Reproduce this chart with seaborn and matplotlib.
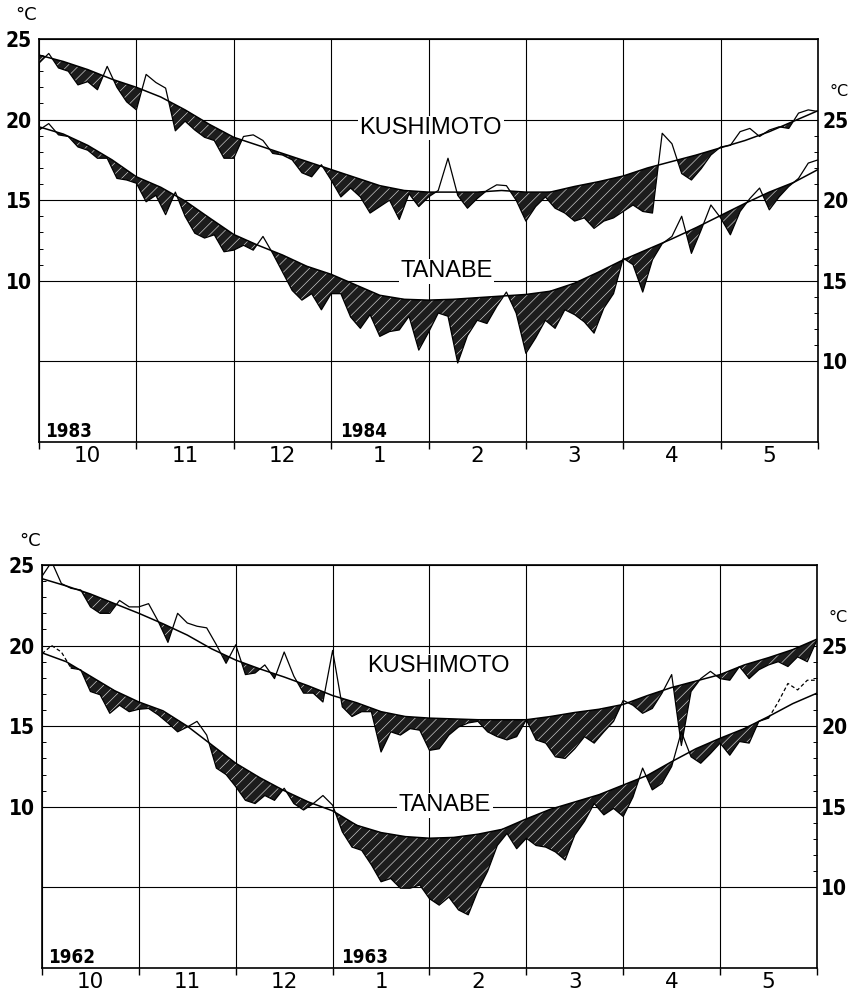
import numpy as np
import matplotlib
matplotlib.use("Agg")
import matplotlib.pyplot as plt
import seaborn as sns

# ---------------- data ----------------
months = ["10", "11", "12", "1", "2", "3", "4", "5"]
# sampling positions in month units (0 = 1 Oct, 8 = 31 May)
obs_x = np.round(np.arange(0, 81) / 10.0, 2)
norm_x = np.arange(0, 33) / 4.0

# 1983-84
kushi_obs_8384 = [23.5, 24.1, 23.2, 23.0, 22.15, 22.35, 21.85, 23.3, 22.0, 21.1,
                  20.6, 22.8, 22.3, 21.95, 19.3, 19.9, 19.35, 18.9, 18.7, 17.6,
                  17.6, 18.95, 19.05, 18.7, 17.9, 17.8, 17.5, 16.7, 16.45, 17.2,
                  16.25, 15.2, 15.75, 15.2, 14.2, 14.6, 15.0, 13.8, 15.4, 14.6,
                  15.2, 15.6, 17.6, 15.3, 14.5, 15.1, 15.6, 15.95, 15.9, 15.0,
                  13.7, 14.6, 15.2, 14.5, 14.2, 13.7, 13.9, 13.25, 13.7, 13.9,
                  14.3, 14.7, 14.3, 14.2, 19.15, 18.5, 16.65, 16.25, 16.95, 17.8,
                  18.3, 18.4, 19.25, 19.45, 18.95, 19.35, 19.55, 19.45, 20.4, 20.6,
                  20.5]
kushi_norm_8384 = [24.0, 23.6, 23.1, 22.5, 22.0, 21.4, 20.6, 19.7, 18.9, 18.4,
                   17.9, 17.4, 16.9, 16.4, 15.9, 15.6, 15.5, 15.5, 15.5, 15.6,
                   15.5, 15.5, 15.85, 16.15, 16.5, 17.0, 17.4, 17.8, 18.25, 18.7,
                   19.25, 19.9, 20.55]
tanabe_obs_8384 = [19.35, 19.75, 19.05, 18.95, 18.3, 18.1, 17.6, 17.6, 16.35, 16.25,
                   16.05, 14.9, 15.3, 14.1, 15.5, 14.0, 12.95, 12.65, 12.85, 11.8,
                   11.9, 12.2, 11.9, 12.75, 11.7, 10.55, 9.4, 8.8, 9.2, 8.2,
                   9.2, 9.2, 7.75, 7.05, 7.9, 6.55, 6.85, 6.95, 7.8, 5.7,
                   6.8, 8.0, 7.8, 4.9, 6.6, 7.55, 7.35, 8.4, 9.3, 8.0,
                   5.5, 6.45, 7.55, 7.05, 8.2, 7.9, 7.45, 6.75, 8.3, 9.2,
                   11.4, 11.0, 9.3, 11.3, 12.3, 12.75, 14.0, 11.7, 13.15, 14.7,
                   13.9, 12.85, 14.3, 15.1, 15.75, 14.4, 15.2, 15.85, 16.35, 17.3,
                   17.5]
tanabe_norm_8384 = [19.55, 19.1, 18.4, 17.5, 16.45, 15.8, 14.95, 13.9, 12.87, 12.2,
                    11.6, 10.9, 10.4, 9.75, 9.1, 8.85, 8.8, 8.85, 8.95, 9.05,
                    9.15, 9.35, 9.85, 10.55, 11.3, 11.95, 12.6, 13.3, 14.05, 14.8,
                    15.5, 16.1, 16.9]

# 1962-63
kushi_obs_6263 = [24.3, 25.2, 23.85, 23.55, 23.45, 22.4, 22.0, 22.0, 22.8, 22.4,
                  22.4, 22.6, 21.5, 20.2, 22.0, 21.4, 21.2, 21.1, 20.05, 18.9,
                  20.05, 18.2, 18.3, 18.8, 17.95, 19.6, 18.1, 17.05, 17.05, 16.5,
                  19.7, 16.2, 15.6, 15.9, 15.9, 13.4, 14.65, 14.45, 14.85, 14.75,
                  13.5, 13.6, 14.45, 14.95, 15.2, 15.3, 14.65, 14.35, 14.15, 14.35,
                  15.4, 14.15, 13.95, 13.1, 13.0, 13.6, 14.35, 13.95, 14.65, 15.3,
                  16.6, 16.3, 15.8, 16.1, 17.05, 18.2, 13.8, 17.15, 17.95, 18.4,
                  17.95, 17.85, 18.7, 17.95, 18.5, 18.8, 19.0, 18.7, 19.3, 19.0,
                  20.35]
kushi_norm_6263 = [24.15, 23.7, 23.2, 22.6, 22.0, 21.35, 20.65, 19.8, 19.1, 18.55,
                   18.05, 17.5, 16.9, 16.45, 15.9, 15.6, 15.5, 15.45, 15.4, 15.4,
                   15.4, 15.6, 15.85, 16.05, 16.35, 16.9, 17.4, 17.8, 18.2, 18.8,
                   19.25, 19.75, 20.4]
tanabe_obs_6263 = [19.5, 20.0, 19.6, 18.6, 18.5, 17.15, 16.95, 15.8, 16.3, 15.9,
                   16.05, 16.1, 15.7, 15.2, 14.65, 14.95, 15.3, 14.45, 12.4, 12.0,
                   11.25, 10.4, 10.2, 10.7, 10.4, 11.15, 10.2, 9.8, 10.2, 10.7,
                   10.1, 8.45, 7.5, 7.3, 6.4, 5.35, 5.55, 4.95, 4.95, 5.15,
                   4.3, 3.9, 4.4, 3.6, 3.3, 4.8, 6.0, 7.6, 8.35, 7.4,
                   8.05, 7.6, 7.5, 7.2, 6.7, 8.25, 9.1, 10.2, 9.5, 9.9,
                   9.4, 10.6, 12.4, 11.05, 11.45, 12.5, 14.65, 13.1, 12.7, 13.3,
                   13.95, 13.2, 14.05, 13.95, 15.3, 15.5, 16.5, 17.65, 17.25, 17.85,
                   17.85]
tanabe_norm_6263 = [19.55, 19.0, 18.1, 17.2, 16.5, 15.95, 15.0, 13.85, 12.7, 11.8,
                    11.0, 10.3, 9.75, 8.85, 8.4, 8.15, 8.05, 8.1, 8.3, 8.6,
                    9.25, 9.85, 10.3, 10.75, 11.35, 11.95, 12.8, 13.6, 14.25, 14.85,
                    15.6, 16.4, 17.05]

left_ticks = [5, 10, 15, 20, 25]
left_labels = ["", "10", "15", "20", "25"]
right_ticks = [10, 15, 20, 25]
right_offset = 5

# ---------------- style ----------------
sns.set_style("white")
plt.rcParams["font.family"] = ["DejaVu Sans"]
plt.rcParams["hatch.linewidth"] = 0.45
plt.rcParams["text.color"] = "black"
plt.rcParams["xtick.color"] = "black"
plt.rcParams["ytick.color"] = "black"
plt.rcParams["xtick.labelcolor"] = "black"
plt.rcParams["ytick.labelcolor"] = "black"

num_font = dict(family="DejaVu Sans", weight="bold", stretch="condensed", size=15)
year_font = dict(family="DejaVu Sans", weight="bold", stretch="condensed", size=13.5)

fig = plt.figure(figsize=(8.52, 9.91), dpi=100)
fig.patch.set_facecolor("white")

ax_top = fig.add_axes([0.0458, 0.554, 0.9143, 0.4067])
ax_bot = fig.add_axes([0.0493, 0.0232, 0.9096, 0.4067])


def draw_series(ax, obs, norm, dashed=None):
    obs = np.asarray(obs, float)
    norm = np.asarray(norm, float)
    n_on = np.interp(obs_x, norm_x, norm)
    ax.fill_between(obs_x, obs, n_on, where=obs < n_on, interpolate=True,
                    facecolor="#1c1c1c", edgecolor="#d8d8d8", hatch="///",
                    linewidth=0, zorder=2)
    sns.lineplot(x=norm_x, y=norm, ax=ax, color="black", lw=1.1,
                 zorder=3, legend=False)
    if dashed is None:
        sns.lineplot(x=obs_x, y=obs, ax=ax, color="black", lw=0.9,
                     zorder=4, legend=False)
    else:
        lo, hi = dashed
        solid = (obs_x >= lo) & (obs_x <= hi)
        sns.lineplot(x=obs_x[solid], y=obs[solid], ax=ax, color="black",
                     lw=0.9, zorder=4, legend=False)
        for m in (obs_x <= lo, obs_x >= hi):
            ax.plot(obs_x[m], obs[m], color="black", lw=0.9, ls=(0, (3, 2)),
                    zorder=4)


def style_axes(ax, year_a, year_b, kx, ky, tx, ty):
    ax.set_xlim(0, 8)
    ax.set_ylim(0, 25)
    ax.set_xticks(np.arange(0, 9))
    ax.set_xticklabels([""] * 9)
    ax.set_xticks(np.arange(0.5, 8, 1), minor=True)
    ax.set_xticklabels(months, minor=True)
    ax.tick_params(axis="x", which="major", direction="out", length=5,
                   width=1, color="black", bottom=True)
    ax.tick_params(axis="x", which="minor", length=0, pad=3, labelsize=15.5,
                   labelcolor="black")
    ax.set_yticks(left_ticks)
    ax.set_yticklabels(left_labels)
    ax.set_yticks(np.arange(10, 26), minor=True)
    ax.tick_params(axis="y", which="major", length=0, pad=5)
    ax.tick_params(axis="y", which="minor", direction="in", length=3,
                   width=0.7, left=True)
    for lab in ax.get_yticklabels():
        lab.set_fontproperties(num_font)
        lab.set_color("black")
    ax.grid(True, which="major", color="black", lw=0.8)
    ax.set_axisbelow(True)
    for s in ax.spines.values():
        s.set_visible(True)
        s.set_color("black")
        s.set_linewidth(1.2)
    ax.set_xlabel("")
    ax.set_ylabel("")

    ax2 = ax.twinx()
    ax2.set_ylim(0 + right_offset, 25 + right_offset)
    ax2.set_yticks(right_ticks)
    ax2.set_yticklabels([str(t) for t in right_ticks])
    ax2.set_yticks(np.arange(10, 26), minor=True)
    ax2.tick_params(axis="y", which="major", length=0, pad=3)
    ax2.tick_params(axis="y", which="minor", direction="in", length=3,
                    width=0.7, right=True)
    for lab in ax2.get_yticklabels():
        lab.set_fontproperties(num_font)
        lab.set_color("black")
    ax2.grid(False)
    for s in ax2.spines.values():
        s.set_visible(False)

    ax.text(0.008, 0.027, year_a, transform=ax.transAxes, ha="left",
            va="center", fontproperties=year_font)
    ax.text(0.386, 0.027, year_b, transform=ax.transAxes, ha="left",
            va="center", fontproperties=year_font)
    ax.text(kx, ky, "KUSHIMOTO", transform=ax.transAxes, ha="center",
            va="center", fontsize=17, family="Liberation Sans",
            bbox=dict(facecolor="white", edgecolor="none", pad=1), zorder=5)
    ax.text(tx, ty, "TANABE", transform=ax.transAxes, ha="center",
            va="center", fontsize=17, family="Liberation Sans",
            bbox=dict(facecolor="white", edgecolor="none", pad=1), zorder=5)
    ax.text(-0.03, 1.06, "°C", transform=ax.transAxes, ha="left",
            va="center", fontsize=13)
    ax.text(1.015, 0.87, "°C", transform=ax.transAxes, ha="left",
            va="center", fontsize=11.5)


draw_series(ax_top, kushi_obs_8384, kushi_norm_8384)
draw_series(ax_top, tanabe_obs_8384, tanabe_norm_8384)
style_axes(ax_top, "1983", "1984", 0.503, 0.779, 0.523, 0.424)

draw_series(ax_bot, kushi_obs_6263, kushi_norm_6263)
draw_series(ax_bot, tanabe_obs_6263, tanabe_norm_6263, dashed=(0.3, 7.5))
style_axes(ax_bot, "1962", "1963", 0.511, 0.749, 0.52, 0.404)

fig.savefig("out.png", dpi=100, facecolor="white")
